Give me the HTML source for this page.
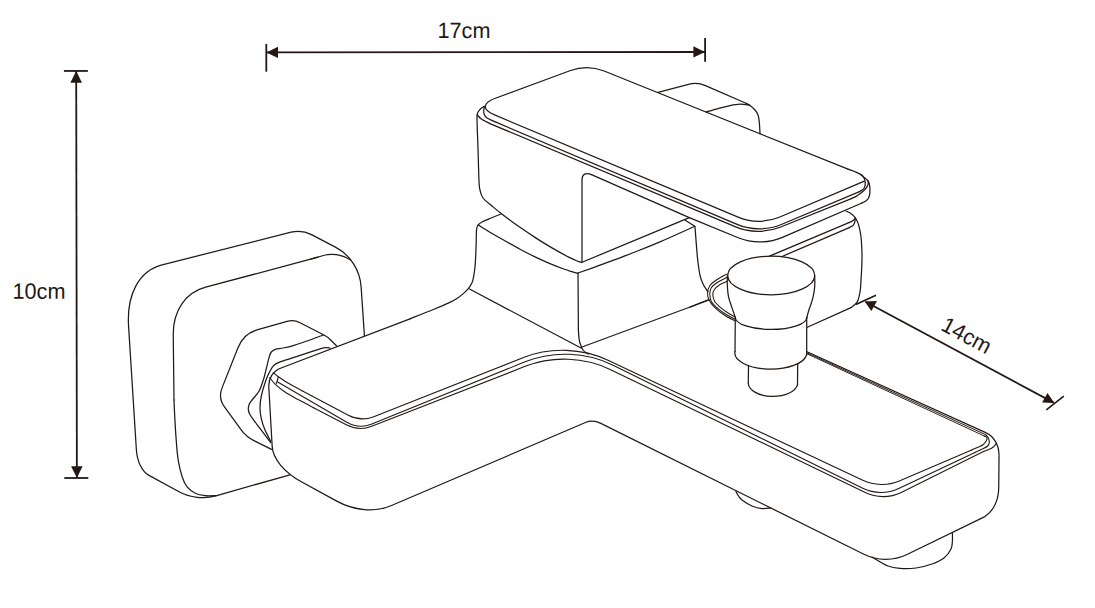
<!DOCTYPE html>
<html lang="en"><head><meta charset="utf-8"><title>Faucet dimensions</title>
<style>html,body{margin:0;padding:0;background:#fff}body{width:1095px;height:608px;overflow:hidden;position:relative;font-family:"Liberation Sans",Arial,sans-serif}svg{display:block;position:absolute;left:0;top:0}text{font-family:"Liberation Sans",Arial,sans-serif;fill:#231815}</style></head><body>
<svg width="1095" height="608" viewBox="0 0 1095 608">
<g fill="none" stroke="#231815" stroke-linecap="round" stroke-linejoin="round">
<path d="M290,474.8 L215.84,495.84 C203.91,499.23 189.92,497.67 179.03,491.74 L149.02,475.41 C141.94,471.56 137.12,461.62 136.34,449.24 L128.57,326.1 C126.54,293.92 139.3,270.65 162.14,264.87 L291.09,232.2 C297.7,230.53 305.45,231.44 311.49,234.61 L335.39,247.15 C350.21,254.93 359.99,269.94 361.11,286.64 L364.4,335.6" stroke-width="1.25"/>
<path d="M216,495.6 C214.23,495.6 208.85,496 205.4,495.6 C201.95,495.2 198.32,494.6 195.3,493.2 C192.28,491.8 189.47,489.87 187.3,487.2 C185.13,484.53 183.82,481.72 182.3,477.2 C180.78,472.68 179.22,466.3 178.2,460.1 C177.18,453.9 176.77,447.02 176.2,440 C175.63,432.98 175.17,424.67 174.8,418 C174.43,411.33 174.13,403 174,400" stroke-width="1.25"/>
<path d="M174,400 L173.25,335 C172.97,310.82 185.28,292.66 205.65,287.22 L318,257.2" stroke-width="1.25"/>
<path d="M311,259.1 C312.17,258.78 315.63,257.88 318,257.2 C320.37,256.52 323.03,255.47 325.2,255 C327.37,254.53 329.15,254.4 331,254.35 C332.85,254.3 334.55,254.44 336.3,254.7 C338.05,254.96 339.83,255.4 341.5,255.9 C343.17,256.4 344.73,256.98 346.3,257.7 C347.87,258.42 350.13,259.78 350.9,260.2" stroke-width="1.25"/>
<path d="M336.7,346 L330.34,339.71 C328.58,337.97 326.15,336.2 323.95,335.06 L300.02,322.71 C296.16,320.72 291.24,320.23 287.07,321.41 L256.97,329.97 C248.62,332.35 241.4,339.1 237.97,347.74 L222.06,387.87 C219.54,394.21 220.47,401.47 224.49,406.98 L240.99,429.54 C244.28,434.04 249.36,438.33 254.35,440.82 L271.5,449.4" stroke-width="1.25"/>
<path d="M323.3,335 C321.08,335.83 314.88,338.28 310,340 C305.12,341.72 298.45,343.97 294,345.3 C289.55,346.63 286.42,347.33 283.3,348 C280.18,348.67 277.3,348.63 275.3,349.3 C273.3,349.97 272.3,350.77 271.3,352 C270.3,353.23 270.3,353.25 269.3,356.7 C268.3,360.15 266.3,368.82 265.3,372.7 C264.3,376.58 264.3,377 263.3,380 C262.3,383 261.1,387.45 259.3,390.7 C257.5,393.95 254.17,397.28 252.5,399.5 C250.83,401.72 250,402.42 249.3,404 C248.6,405.58 248.25,407.33 248.3,409 C248.35,410.67 248.73,412.2 249.6,414 C250.47,415.8 251.65,417.25 253.5,419.8 C255.35,422.35 257.83,425.48 260.7,429.3 C263.57,433.12 269.03,440.47 270.7,442.7" stroke-width="1.25"/>
<path d="M330,348 C329.33,347.93 327.55,347.48 326,347.6 C324.45,347.72 325.03,347.4 320.7,348.7 C316.37,350 306.67,353.23 300,355.4 C293.33,357.57 285.03,360.05 280.7,361.7 C276.37,363.35 275.78,363.7 274,365.3 C272.22,366.9 271.33,368.85 270,371.3 C268.67,373.75 267.45,375.88 266,380 C264.55,384.12 262.3,391.33 261.3,396 C260.3,400.67 260,404.22 260,408 C260,411.78 260.52,415.15 261.3,418.7 C262.08,422.25 263.13,425.53 264.7,429.3 C266.27,433.07 269.7,439.3 270.7,441.3" stroke-width="1.25"/>
<path d="M501,214 C499.17,214.75 493.17,217.17 490,218.5 C486.83,219.83 484,220.92 482,222 C480,223.08 478.92,223.67 478,225 C477.08,226.33 476.8,227 476.5,230 C476.2,233 476.33,238.67 476.2,243 C476.07,247.33 475.92,251.88 475.7,256 C475.48,260.12 475.28,264.08 474.9,267.7 C474.52,271.32 473.88,275.2 473.4,277.7 C472.92,280.2 472.85,280.88 472,282.7 C471.15,284.52 469.75,286.78 468.3,288.6 C466.85,290.42 465.13,292 463.3,293.6 C461.47,295.2 459.62,296.7 457.3,298.2 C454.98,299.7 453.38,300.72 449.4,302.6 C445.42,304.48 439.97,306.8 433.4,309.5 C426.83,312.2 413.9,317.25 410,318.8" stroke-width="1.25"/>
<path d="M410,318.8 L281.08,368.01 C272.97,371.1 268.3,378.31 268.79,386.98 L272.17,446.33 C272.87,458.71 283.96,472.16 301.34,481.71 L336.28,500.91 C354.21,510.76 374.98,512.61 390.94,505.78 L585.45,422.55 C590.01,420.6 595.86,420.92 600.86,423.41 L863.91,554.31 C877.24,560.94 893.6,561.01 906.98,554.5 L982.31,517.87 C992.35,512.99 998.58,501.64 998.72,488 L999.03,455.7 C999.14,445.16 994.08,436.38 985.71,432.6 L807,351.8" stroke-width="1.25"/>
<path d="M273.3,372.7 C274.13,373.37 275.8,374.93 278.3,376.7 C280.8,378.47 284.18,380.87 288.3,383.3 C292.42,385.73 300.55,389.97 303,391.3" stroke-width="1.1"/>
<path d="M303,391.3 L348.32,415.26 C356,419.31 365.65,419.85 373.72,416.66 L523.61,357.49 C550.14,347.02 582.21,348.06 608.01,360.22 L862.81,480.37 C874.03,485.66 887.89,485.91 899.28,481.02 L971.7,450" stroke-width="1.1"/>
<path d="M971.7,450 C972.75,449.53 976.12,448.08 978,447.2 C979.88,446.32 981.62,445.78 983,444.7 C984.38,443.62 985.63,441.88 986.3,440.7 C986.97,439.52 987.33,438.38 987,437.6 C986.67,436.82 984.75,436.27 984.3,436" stroke-width="1.1"/>
<path d="M984.3,436 L807,353.8" stroke-width="0.95"/>
<path d="M278.2,377 C278.08,377.5 277.82,378.92 277.5,380 C277.18,381.08 276.5,382.92 276.3,383.5" stroke-width="1.1"/>
<path d="M277.7,382 L346.8,422.16 C354.3,426.53 363.83,427.2 371.87,423.94 L525.02,361.84 C552.6,350.65 585.86,351.86 612.55,365.02 L862.76,488.36 C873.88,493.84 887.56,493.94 898.76,488.62 L975,452.4" stroke-width="1.1"/>
<path d="M975,452.4 C976.12,451.88 979.58,450.37 981.7,449.3 C983.82,448.23 986.43,447.22 987.7,446 C988.97,444.78 989.2,443.33 989.3,442 C989.4,440.67 988.9,439.22 988.3,438 C987.7,436.78 986.13,435.25 985.7,434.7" stroke-width="1.1"/>
<path d="M985.7,434.7 L807,352.8" stroke-width="0.95"/>
<path d="M269.7,377.7 C270.7,378.87 273.15,382.32 275.7,384.7 C278.25,387.08 281.33,389.57 285,392 C288.67,394.43 292.87,396.65 297.7,399.3 C302.53,401.95 311.28,406.47 314,407.9" stroke-width="1.1"/>
<path d="M314,407.9 L346.3,424.81 C353.99,428.83 363.66,429.37 371.74,426.21 L525.84,366.11 C552.41,355.75 584.44,357 610.12,369.4 L865.29,492.6 C876.46,498 890.1,497.91 901.21,492.39 L984,451.2" stroke-width="1.1"/>
<path d="M984,451.2 C984.72,450.97 986.68,450.55 988.3,449.8 C989.92,449.05 992.37,447.78 993.7,446.7 C995.03,445.62 995.87,443.87 996.3,443.3" stroke-width="1.1"/>
<path d="M736,491.6 C736.42,492.33 737.5,494.6 738.5,496 C739.5,497.4 739.75,498.33 742,500 C744.25,501.67 748.67,504.57 752,506 C755.33,507.43 758.83,508.27 762,508.6 C765.17,508.93 769.5,508.1 771,508" stroke-width="1.25"/>
<path d="M872,557 C874.67,558.5 883.33,564.1 888,566 C892.67,567.9 895.33,568.07 900,568.4 C904.67,568.73 910.67,568.73 916,568 C921.33,567.27 927.33,565.67 932,564 C936.67,562.33 940.83,560.5 944,558 C947.17,555.5 949.6,551.83 951,549 C952.4,546.17 952.17,543.67 952.4,541 C952.63,538.33 952.4,534.33 952.4,533" stroke-width="1.25"/>
<path d="M478.3,224.9 C480.25,226.12 485.87,229.72 490,232.2 C494.13,234.68 498.1,236.97 503.1,239.8 C508.1,242.63 514.5,246.27 520,249.2 C525.5,252.13 531.1,255 536.1,257.4 C541.1,259.8 545.4,261.67 550,263.6 C554.6,265.53 560.03,267.65 563.7,269 C567.37,270.35 569.62,270.97 572,271.7 C574.38,272.43 577,273.12 578,273.4" stroke-width="1.25"/>
<path d="M578,273 C581.67,271.7 593,267.73 600,265.2 C607,262.67 613.33,260.33 620,257.8 C626.67,255.27 633.33,252.67 640,250 C646.67,247.33 653.33,244.63 660,241.8 C666.67,238.97 674.2,235.58 680,233 C685.8,230.42 692.33,227.42 694.8,226.3" stroke-width="1.25"/>
<path d="M578,273 L578.4,330" stroke-width="1.25"/>
<path d="M578.4,330 C578.5,331.33 578.73,335.83 579,338 C579.27,340.17 579.33,341 580,343 C580.67,345 581.67,348.17 583,350 C584.33,351.83 587.17,353.33 588,354" stroke-width="1.25"/>
<path d="M469.5,289 L581,348" stroke-width="1.25"/>
<path d="M582,347 L709,300" stroke-width="1.25"/>
<path d="M695,227 C695.17,229.17 695.58,234.83 696,240 C696.42,245.17 696.85,252.18 697.5,258 C698.15,263.82 699,270.62 699.9,274.9 C700.8,279.18 701.58,280.92 702.9,283.7 C704.22,286.48 706.98,290.28 707.8,291.6" stroke-width="1.25"/>
<path d="M708.8,299.7 L690,307.2" stroke-width="1.25"/>
<path d="M846,211 C846.88,211.45 849.77,212.58 851.3,213.7 C852.83,214.82 854.05,216.05 855.2,217.7 C856.35,219.35 857.28,220.8 858.2,223.6 C859.12,226.4 860.12,230.72 860.7,234.5 C861.28,238.28 861.48,242.38 861.7,246.3 C861.92,250.22 862.02,254.05 862,258 C861.98,261.95 861.77,266.33 861.6,270 C861.43,273.67 861.22,276.67 861,280 C860.78,283.33 860.8,286.62 860.3,290 C859.8,293.38 858.88,297.88 858,300.3 C857.12,302.72 856.17,303.28 855,304.5 C853.83,305.72 851.67,307.08 851,307.6" stroke-width="1.25"/>
<path d="M769.5,256.2 L851.3,221.6" stroke-width="1.25"/>
<path d="M851.3,221.6 C851.77,221.28 853.45,220.32 854.1,219.7 C854.75,219.08 855.02,218.2 855.2,217.9" stroke-width="1.25"/>
<path d="M781.5,256.7 L849.3,227.6" stroke-width="1.25"/>
<path d="M849.3,227.6 C849.97,227.18 852.38,226.02 853.3,225.1 C854.22,224.18 854.48,223.17 854.8,222.1 C855.12,221.03 855.13,219.27 855.2,218.7" stroke-width="1.25"/>
<path d="M807.3,327.3 L851,307.6" stroke-width="1.25"/>
<path d="M727.7,275.5 A43.5,19.3 0 1 1 814.7,275.5 A43.5,19.3 0 1 1 727.7,275.5" stroke-width="1.25"/>
<path d="M727.4,275.5 C727.38,277.03 727.12,281.18 727.3,284.7 C727.48,288.22 727.8,292.98 728.5,296.6 C729.2,300.22 730.38,303 731.5,306.4 C732.62,309.8 734.58,315.23 735.2,317" stroke-width="1.25"/>
<path d="M814.7,275.5 C814.7,277.37 815.03,282.83 814.7,286.7 C814.37,290.57 813.7,294.7 812.7,298.7 C811.7,302.7 809.7,307.48 808.7,310.7 C807.7,313.92 807.03,316.78 806.7,318" stroke-width="1.25"/>
<path d="M735.3,317.5 A35.7,12 0 0 0 806.7,317.3" stroke-width="1.25"/>
<path d="M735.3,317.5 L735,351.3" stroke-width="1.25"/>
<path d="M806.7,317.3 L806.7,354.5" stroke-width="1.25"/>
<path d="M735,351.3 A35.9,16.2 0 0 0 806.7,354.5" stroke-width="1.25"/>
<path d="M748.5,365.3 L748.3,383.3" stroke-width="1.25"/>
<path d="M797.7,363.3 L797.5,384.7" stroke-width="1.25"/>
<path d="M748.3,383.3 A24.7,13.4 0 0 0 797.5,384.7" stroke-width="1.25"/>
<path d="M727.1,273.9 C725.37,274.88 719.58,277.83 716.7,279.8 C713.82,281.77 711.32,283.57 709.8,285.7 C708.28,287.83 707.77,290.3 707.6,292.6 C707.43,294.9 707.62,297.03 708.8,299.5 C709.98,301.97 712.07,304.77 714.7,307.4 C717.33,310.03 721.25,313.08 724.6,315.3 C727.95,317.52 733.1,319.8 734.8,320.7" stroke-width="1.05"/>
<path d="M727.1,277.3 C725.53,278.13 720.33,280.57 717.7,282.3 C715.07,284.03 712.62,285.82 711.3,287.7 C709.98,289.58 709.8,291.3 709.8,293.6 C709.8,295.9 709.98,299.03 711.3,301.5 C712.62,303.97 715.15,306.18 717.7,308.4 C720.25,310.62 723.75,313.02 726.6,314.8 C729.45,316.58 733.43,318.38 734.8,319.1" stroke-width="1.05"/>
<path d="M727.1,281.3 C725.87,281.87 721.85,283.3 719.7,284.7 C717.55,286.1 715.35,288.05 714.2,289.7 C713.05,291.35 712.72,292.63 712.8,294.6 C712.88,296.57 713.23,299.2 714.7,301.5 C716.17,303.8 719.3,306.43 721.6,308.4 C723.9,310.37 726.27,311.9 728.5,313.3 C730.73,314.7 733.92,316.22 735,316.8" stroke-width="1.05"/>
<path d="M864.4,181.1 L779.25,217.29 C766.69,222.63 751.29,222.66 738.71,217.39 L494.55,114.91 C481.68,109.51 482.25,103.08 496.04,98 L570.51,70.53 C580.98,66.67 593.75,66.85 604.1,71.02 L848,169.2" stroke-width="1.25"/>
<path d="M848,169.2 C849.08,169.58 852.27,170.57 854.5,171.5 C856.73,172.43 859.75,173.6 861.4,174.8 C863.05,176 863.77,177.38 864.4,178.7 C865.03,180.02 865.12,181.47 865.2,182.7 C865.28,183.93 865.2,185.03 864.9,186.1 C864.6,187.17 864.3,188.18 863.4,189.1 C862.5,190.02 860.15,191.18 859.5,191.6" stroke-width="1.25"/>
<path d="M484.4,106.3 C484.3,106.92 483.87,108.77 483.8,110 C483.73,111.23 483.52,112.42 484,113.7 C484.48,114.98 484.92,116.37 486.7,117.7 C488.48,119.03 493.37,121.03 494.7,121.7" stroke-width="1.25"/>
<path d="M494.7,121.7 L737.1,224.43 C750.8,230.24 767.61,230.26 781.32,224.49 L859.5,191.6" stroke-width="1.25"/>
<path d="M477.3,115 C477.97,115.67 479.3,117.62 481.3,119 C483.3,120.38 487.97,122.58 489.3,123.3" stroke-width="1.25"/>
<path d="M489.3,123.3 L735.68,226.9 C749.39,232.66 766.26,232.8 780.07,227.24 L852,198.3" stroke-width="1.25"/>
<path d="M852,198.3 C852.67,197.98 854.75,197.12 856,196.4 C857.25,195.68 858.1,195.05 859.5,194 C860.9,192.95 863.08,191.42 864.4,190.1 C865.72,188.78 866.75,187.33 867.4,186.1 C868.05,184.87 868.23,183.6 868.3,182.7 C868.37,181.8 867.88,181.03 867.8,180.7" stroke-width="1.25"/>
<path d="M484.4,106.3 C483.93,106.6 482.45,107.43 481.6,108.1 C480.75,108.77 479.93,109.55 479.3,110.3 C478.67,111.05 478.17,111.82 477.8,112.6 C477.43,113.38 477.23,114.02 477.1,115 C476.97,115.98 476.97,116 477,118.5 C477.03,121 477.13,125.08 477.3,130 C477.47,134.92 477.72,139.5 478,148 C478.28,156.5 478.67,174 479,181 C479.33,188 479.33,187.17 480,190 C480.67,192.83 481,195.33 483,198 C485,200.67 488.65,203.17 492,206 C495.35,208.83 498.43,211.45 503.1,215 C507.77,218.55 514.5,223.45 520,227.3 C525.5,231.15 530.77,234.67 536.1,238.1 C541.43,241.53 546.48,244.68 552,247.9 C557.52,251.12 564.87,255.17 569.2,257.4 C573.53,259.63 575.93,260.48 578,261.3 C580.07,262.12 581,262.13 581.6,262.3" stroke-width="1.25"/>
<path d="M581.5,262.5 L689.3,217.6" stroke-width="1.25"/>
<path d="M582,262 L582,179.9 C582,174.01 585.83,172.08 592.07,174.83 L689.3,217.6" stroke-width="1.25"/>
<path d="M685.2,220.2 L694.8,226.3" stroke-width="1.25"/>
<path d="M689.3,217.6 L738.21,237.76 C751.97,243.43 768.77,243.28 782.43,237.37 L861.4,203.2" stroke-width="1.25"/>
<path d="M861.4,203.2 C862.07,202.87 864.2,202.07 865.4,201.2 C866.6,200.33 867.85,199.43 868.6,198 C869.35,196.57 869.77,194.9 869.9,192.6 C870.03,190.3 869.82,186.27 869.4,184.2 C868.98,182.13 868.4,181.43 867.4,180.2 C866.4,178.97 864.55,177.77 863.4,176.8 C862.25,175.83 860.98,174.8 860.5,174.4" stroke-width="1.25"/>
<path d="M658,92.4 L688.5,84.39 C693.89,82.97 700.34,83.46 705.46,85.67 L746,103.2" stroke-width="1.25"/>
<path d="M746,103.2 C746.67,103.6 748.5,104.47 750,105.6 C751.5,106.73 753.67,108.43 755,110 C756.33,111.57 757.28,113 758,115 C758.72,117 758.97,118.87 759.3,122 C759.63,125.13 759.88,131.83 760,133.8" stroke-width="1.25"/>
<path d="M706,112 C708,111.43 714,109.67 718,108.6 C722,107.53 726.33,106.33 730,105.6 C733.67,104.87 736.75,104.27 740,104.2 C743.25,104.13 747.92,105.03 749.5,105.2" stroke-width="1.25"/>
<path d="M76.2,71 L76.9,478" stroke-width="1.8" stroke-linecap="butt"/>
<path d="M63.9,70.95 L87.9,70.95" stroke-width="1.8" stroke-linecap="butt"/>
<path d="M64.3,478 L88.3,478" stroke-width="1.8" stroke-linecap="butt"/>
<path d="M266.3,52.4 L705.1,52" stroke-width="1.8" stroke-linecap="butt"/>
<path d="M266.3,43.9 L266.3,71.7" stroke-width="1.8" stroke-linecap="butt"/>
<path d="M705.1,38.1 L705.1,61.7" stroke-width="1.8" stroke-linecap="butt"/>
<path d="M865.5,301.8 L1053.6,402.6" stroke-width="1.8" stroke-linecap="butt"/>
<path d="M855.8,304.6 L876,295.2" stroke-width="1.6" stroke-linecap="butt"/>
<path d="M1046.3,409.9 L1063.8,396.1" stroke-width="1.6" stroke-linecap="butt"/>
</g>
<g fill="#231815" stroke="none">
<polygon points="76.2,70.9 70.4,82.7 82,82.7"/>
<polygon points="76.9,478 71.1,466.2 82.6,466.2"/>
<polygon points="266.4,52.4 278,46.8 278,58"/>
<polygon points="705,52 693.4,46.3 693.4,57.5"/>
<polygon points="864.7,301.4 877,301.1 871.4,311"/>
<polygon points="1054.4,403 1047.5,393.1 1042.1,402.5"/>
</g>
<text transform="translate(464,37.9) rotate(0.05) scale(0.98,1)" font-size="22.1" text-anchor="middle">17cm</text>
<text transform="translate(39.0,298.7) rotate(0.05) scale(0.98,1)" font-size="22.1" text-anchor="middle">10cm</text>
<text transform="translate(963.1,342.0) rotate(28) scale(0.98,1)" font-size="22.1" text-anchor="middle">14cm</text>

</svg></body></html>
